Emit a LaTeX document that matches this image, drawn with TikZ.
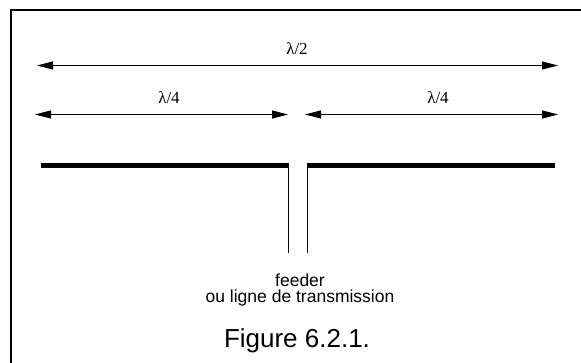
\documentclass[tikz,border=0pt]{standalone}
\usepackage{fontspec}
\setmainfont{Liberation Sans}
\newfontfamily\serifgr{Liberation Serif}
\usetikzlibrary{arrows.meta}
\tikzset{
  dim/.style={line width=1pt, {Triangle[length=16pt,width=8pt]}-{Triangle[length=16pt,width=8pt]}},
  lam/.style={font=\serifgr\fontsize{17}{17}\selectfont, inner sep=0pt, anchor=base},
  dipole/.style={line width=5pt},
  feedline/.style={line width=1pt},
  frame/.style={line width=2pt},
  txt/.style={font=\fontsize{17.5}{16.5}\selectfont, inner sep=0pt, align=center},
  caption/.style={font=\fontsize{26}{26}\selectfont, inner sep=0pt, anchor=base}
}
\begin{document}
\begin{tikzpicture}[x=1pt,y=-1pt]
\useasboundingbox (0,0) rectangle (581,363);
\draw[frame] (11,380) -- (11,10) -- (600,10);
% dimension arrows
\coordinate (hl) at (37,65.5);
\coordinate (hr) at (558,65.5);
\coordinate (ql1) at (35,114.5);
\coordinate (ql2) at (288,114.5);
\coordinate (qr1) at (305,114.5);
\coordinate (qr2) at (558,114.5);
\draw[dim] (hl) -- (hr);
\draw[dim] (ql1) -- (ql2);
\draw[dim] (qr1) -- (qr2);
\node[lam] (lhalf) at (297,55) {λ/2};
\node[lam] (lq1) at (169,104) {λ/4};
\node[lam] (lq2) at (438,104) {λ/4};
% dipole
\coordinate (dl1) at (41,166);
\coordinate (dl2) at (288.5,166);
\coordinate (dr1) at (307,166);
\coordinate (dr2) at (555,166);
\draw[dipole] (dl1) -- (dl2);
\draw[dipole] (dr1) -- (dr2);
% feeder
\coordinate (fl1) at (288,166);
\coordinate (fl2) at (288,253);
\coordinate (fr1) at (307,166);
\coordinate (fr2) at (307,253);
\draw[feedline] (fl1) -- (fl2);
\draw[feedline] (fr1) -- (fr2);
\node[txt] (feeder) at (300,290) {feeder\\ou ligne de transmission};
\node[caption] (fig) at (297,347) {Figure 6.2.1.};
\end{tikzpicture}
\end{document}
